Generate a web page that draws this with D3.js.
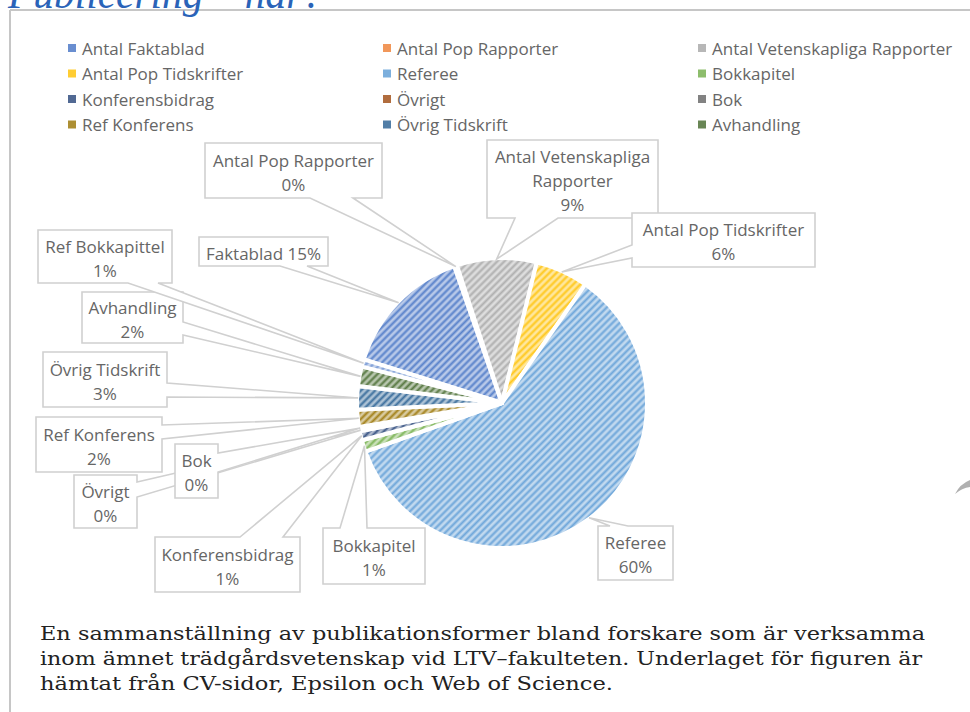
<!DOCTYPE html>
<html>
<head>
<meta charset="utf-8">
<script src="https://cdn.jsdelivr.net/npm/d3@7"></script>
<style>
  body { margin: 0; background: #fff; }
  svg { display: block; }
</style>
</head>
<body>
<div id="chart"></div>
<script>
// publication types, in the order the pie draws them (clockwise)
const categories = ["Antal Faktablad", "Antal Pop Rapporter", "Antal Vetenskapliga Rapporter",
    "Antal Pop Tidskrifter", "Referee", "Bokkapitel", "Konferensbidrag", "Övrigt", "Bok",
    "Ref Konferens", "Övrig Tidskrift", "Avhandling", "Ref Bokkapittel"];
// share of all publications (%)
const shares = [14.8, 0.3, 8.9, 5.9, 59.8, 1.3, 1.0, 0.2, 0.3, 1.9, 2.6, 2.2, 0.8];
// text shown in the data label boxes
const labelNames = [["Faktablad"], ["Antal Pop Rapporter"], ["Antal Vetenskapliga", "Rapporter"],
    ["Antal Pop Tidskrifter"], ["Referee"], ["Bokkapitel"], ["Konferensbidrag"], ["Övrigt"], ["Bok"],
    ["Ref Konferens"], ["Övrig Tidskrift"], ["Avhandling"], ["Ref Bokkapittel"]];
const legendItems = categories.slice(0, 12);
const captionLines = [
    "En sammanställning av publikationsformer bland forskare som är verksamma",
    "inom ämnet trädgårdsvetenskap vid LTV–fakulteten. Underlaget för figuren är",
    "hämtat från CV-sidor, Epsilon och Web of Science."];

const colors = ["#4472C4", "#ED7D31", "#A5A5A5", "#FFC000", "#5B9BD5", "#70AD47", "#264478",
    "#9E480E", "#636363", "#997300", "#255E91", "#43682B", "#698ED0"];

// label box layout: [x0, y0, x1, y1, side of pointer, base a, base b]
const labelBoxes = [
    [199, 237, 328, 266, "bottom", 280, 307],
    [205, 143, 382, 198, "bottom", 310, 353],
    [487, 140, 658, 218, "bottom", 515, 558],
    [632, 213, 815, 267, "left", 245, 258],
    [598, 526, 673, 580, "top", 610, 628],
    [323, 528, 425, 584, "top", 340, 367],
    [155, 537, 300, 592, "top", 240, 283],
    [74, 475, 137, 528, "right", 482, 497],
    [175, 444, 218, 498, "right", 453, 472],
    [36, 417, 162, 472, "right", 425, 439],
    [43, 352, 167, 407, "right", 383, 397],
    [82, 292, 183, 343, "right", 322, 335],
    [38, 230, 172, 283, "bottom", 128, 158]
];

const W = 970, H = 712;
const cx = 502, cy = 403, radius = 145;
const startAngle = -72.5 * Math.PI / 180;
const textColor = "#666666";
const labelFont = "'Open Sans', 'Liberation Sans', sans-serif";

const svg = d3.select("#chart").append("svg")
    .attr("width", W).attr("height", H);

// stripe patterns
const defs = svg.append("defs");
colors.forEach((c, i) => {
    let p = defs.append("pattern")
        .attr("id", "stripe" + i)
        .attr("patternUnits", "userSpaceOnUse")
        .attr("width", 5).attr("height", 5)
        .attr("patternTransform", "rotate(45)");
    p.append("rect").attr("width", 5).attr("height", 5)
        .attr("fill", d3.interpolateRgb(c, "#ffffff")(0.62));
    p.append("line").attr("x1", 1.5).attr("x2", 1.5).attr("y1", 0).attr("y2", 5)
        .attr("stroke", d3.interpolateRgb(c, "#ffffff")(0.12)).attr("stroke-width", 2.1);
});

// frame
svg.append("line").attr("x1", 10).attr("x2", W).attr("y1", 10).attr("y2", 10)
    .attr("stroke", "#c6c6c6").attr("stroke-width", 2);
svg.append("line").attr("x1", 10).attr("x2", 10).attr("y1", 10).attr("y2", H)
    .attr("stroke", "#c6c6c6").attr("stroke-width", 2);

// title (cut off by the top of the page)
svg.append("text")
    .attr("x", 8).attr("y", 8)
    .attr("font-family", "'Liberation Serif', serif")
    .attr("font-style", "italic")
    .attr("font-size", 44)
    .attr("fill", "#2a63b8")
    .attr("textLength", 315)
    .attr("lengthAdjust", "spacingAndGlyphs")
    .text("Publicering – när?");

// legend
const legendX = d3.scaleOrdinal().domain([0, 1, 2]).range([68, 383, 698]);
const legendY = d3.scaleLinear().domain([0, 3]).range([48, 124.5]);
let legend = svg.append("g").attr("id", "legend");
let items = legend.selectAll("g").data(legendItems).join("g")
    .attr("transform", (d, i) => `translate(${legendX(i % 3)},${legendY(Math.floor(i / 3))})`);
items.append("rect")
    .attr("x", 0).attr("y", -4).attr("width", 8).attr("height", 8)
    .attr("fill", (d, i) => colors[i])
    .attr("fill-opacity", 0.8);
items.append("text")
    .attr("x", 14).attr("y", 0)
    .attr("dominant-baseline", "central")
    .attr("font-family", labelFont)
    .attr("font-size", 17)
    .attr("fill", textColor)
    .text(d => d);

// pie
let pie = d3.pie().sort(null).value(d => d)
    .startAngle(startAngle).endAngle(startAngle + 2 * Math.PI);
let arcs = pie(shares);
let arcGen = d3.arc().innerRadius(0).outerRadius(radius);
let tipArc = d3.arc().innerRadius(144).outerRadius(144);

let plot = svg.append("g").attr("transform", `translate(${cx},${cy})`);
plot.selectAll("path").data(arcs).join("path")
    .attr("d", arcGen)
    .attr("fill", (d, i) => `url(#stripe${i})`)
    .attr("stroke", "#ffffff")
    .attr("stroke-width", 4)
    .attr("stroke-linejoin", "round");

// data label callouts
function calloutPath(b, tip) {
    let [x0, y0, x1, y1, side, a, c] = b;
    let [tx, ty] = tip;
    if (side === "bottom")
        return `M${x0},${y0}H${x1}V${y1}H${c}L${tx},${ty}L${a},${y1}H${x0}Z`;
    if (side === "top")
        return `M${x0},${y0}H${a}L${tx},${ty}L${c},${y0}H${x1}V${y1}H${x0}Z`;
    if (side === "right")
        return `M${x0},${y0}H${x1}V${a}L${tx},${ty}L${x1},${c}V${y1}H${x0}Z`;
    return `M${x0},${y0}H${x1}V${y1}H${x0}V${c}L${tx},${ty}L${x0},${a}Z`;
}

let labels = svg.append("g").attr("id", "labels");
arcs.forEach((d, i) => {
    let b = labelBoxes[i];
    let c = tipArc.centroid(d);
    let tip = [cx + c[0], cy + c[1]];
    let g = labels.append("g");
    g.append("path")
        .attr("d", calloutPath(b, tip))
        .attr("fill", "#ffffff")
        .attr("stroke", "#d0d0d0")
        .attr("stroke-width", 1.6);
    let pct = Math.round(d.value) + "%";
    let lines = i === 0 ? [labelNames[i][0] + " " + pct] : labelNames[i].concat([pct]);
    let midY = (b[1] + b[3]) / 2 + 1.5;
    let midX = (b[0] + b[2]) / 2;
    lines.forEach((t, k) => {
        g.append("text")
            .attr("x", midX)
            .attr("y", midY + (k - (lines.length - 1) / 2) * 24)
            .attr("text-anchor", "middle")
            .attr("dominant-baseline", "central")
            .attr("font-family", labelFont)
            .attr("font-size", 17)
            .attr("fill", textColor)
            .text(t);
    });
});

// caption under the chart
let captionWidths = [885, 882, 573];
svg.append("g").selectAll("text").data(captionLines).join("text")
    .attr("x", 40)
    .attr("y", (d, i) => 640 + i * 25)
    .attr("font-family", "'DejaVu Serif', serif")
    .attr("font-size", 18)
    .attr("fill", "#222222")
    .attr("textLength", (d, i) => captionWidths[i])
    .attr("lengthAdjust", "spacingAndGlyphs")
    .text(d => d);

// small page-curl mark on the right edge
svg.append("path")
    .attr("d", "M955,494 Q960,484 970,480 L970,487 Q962,488 955,494 Z")
    .attr("fill", "#b0b0b0");
</script>
</body>
</html>
